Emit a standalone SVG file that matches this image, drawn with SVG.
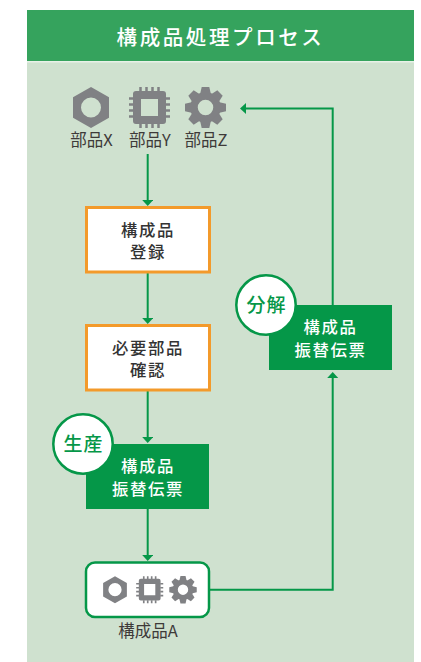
<svg xmlns="http://www.w3.org/2000/svg" xmlns:xlink="http://www.w3.org/1999/xlink" width="421" height="662" viewBox="0 0 421 662">
<style>
text{font-family:"Noto Sans CJK JP","Noto Sans",sans-serif;text-anchor:middle}
.lbl{font-size:16.500px;fill:#3e3a39;font-weight:400}
.box{font-size:16.400px;font-weight:500;fill:#333;letter-spacing:1.600px}
.wh{font-size:16.400px;font-weight:500;fill:#fff;letter-spacing:1.600px}
.circ{font-size:19px;font-weight:500;fill:#059748;letter-spacing:1px}
.or{fill:#fff;stroke:#f39a2b;stroke-width:3}
.gr{fill:#059748}
.c{fill:#fff;stroke:#059748;stroke-width:2.500}
.ln{fill:none;stroke:#059748;stroke-width:2}
.ic{fill:#808184}
</style>
<defs>
<marker id="a" markerUnits="userSpaceOnUse" markerWidth="8" markerHeight="12" refX="3" refY="5.500" orient="auto"><path d="M0 0L6 5.500L0 11Z" fill="#059748"/></marker>
<g id="nut"><path class="ic" fill-rule="evenodd" d="M0-20.500L18-10.200V10.200L0 20.500L-18 10.200V-10.200ZM0-10A10 10 0 1 0 0 10A10 10 0 1 0 0-10Z"/></g>
<g id="chip"><path class="ic" fill-rule="evenodd" d="M-13.500-16.500H13.500Q16.500-16.500 16.500-13.500V13.500Q16.500 16.500 13.500 16.500H-13.500Q-16.500 16.500-16.500 13.500V-13.500Q-16.500-16.500-13.500-16.500ZM-8.500-8.500V8.500H8.500V-8.500Z"/><path d="M-9-20.500V-16M-3-20.500V-16M3-20.500V-16M9-20.500V-16M-9 16V20.500M-3 16V20.500M3 16V20.500M9 16V20.500M-20.500-9H-16M-20.500-3H-16M-20.500 3H-16M-20.500 9H-16M16-9H20.500M16-3H20.500M16 3H20.500M16 9H20.500" stroke="#808184" stroke-width="2.500" fill="none"/></g>
<path id="t" class="ic" d="M-5.500-13L-3.800-20.500H3.800L5.500-13Z"/>
<g id="gear"><circle r="11.500" fill="none" stroke="#808184" stroke-width="7.500"/><use xlink:href="#t" href="#t"/><use xlink:href="#t" href="#t" transform="rotate(45)"/><use xlink:href="#t" href="#t" transform="rotate(90)"/><use xlink:href="#t" href="#t" transform="rotate(135)"/><use xlink:href="#t" href="#t" transform="rotate(180)"/><use xlink:href="#t" href="#t" transform="rotate(225)"/><use xlink:href="#t" href="#t" transform="rotate(270)"/><use xlink:href="#t" href="#t" transform="rotate(315)"/></g>
</defs>
<rect x="27" y="10" width="387" height="652" fill="#cfe1cf"/>
<rect x="27" y="10" width="387" height="51" fill="#35a35d"/>
<rect x="27" y="61" width="387" height="1.500" fill="#e8f1e8"/>
<text id="title" x="220.500" y="45" font-size="20.500" font-weight="500" fill="#fff" letter-spacing="2.600">構成品処理プロセス</text>
<g id="connectors">
<path class="ln" d="M147.700 154V203" marker-end="url(#a)"/>
<path class="ln" d="M147.700 273V321" marker-end="url(#a)"/>
<path class="ln" d="M147.700 391V440" marker-end="url(#a)"/>
<path class="ln" d="M147.700 509V558" marker-end="url(#a)"/>
<path class="ln" d="M210 589.700H332.700V375" marker-end="url(#a)"/>
<path class="ln" d="M332.700 305V108.500H243" marker-end="url(#a)"/>
</g>
<g id="partX"><use xlink:href="#nut" href="#nut" x="91" y="107.500"/><text class="lbl" x="91.500" y="146">部品X</text></g>
<g id="partY"><use xlink:href="#chip" href="#chip" x="149.500" y="107.500"/><text class="lbl" x="150" y="146">部品Y</text></g>
<g id="partZ"><use xlink:href="#gear" href="#gear" x="205.500" y="107.500"/><text class="lbl" x="206" y="146">部品Z</text></g>
<g id="register"><rect class="or" x="86.500" y="207.500" width="123" height="64.500"/><text class="box"><tspan x="148" y="235.500">構成品</tspan><tspan x="148" y="258.100">登録</tspan></text></g>
<g id="confirm"><rect class="or" x="86.500" y="325.500" width="123" height="64.500"/><text class="box"><tspan x="148" y="353.500">必要部品</tspan><tspan x="148" y="376.100">確認</tspan></text></g>
<g id="slipProduce"><rect class="gr" x="86" y="444" width="123" height="65"/><text class="wh"><tspan x="148" y="472.400">構成品</tspan><tspan x="148" y="495">振替伝票</tspan></text></g>
<g id="badgeProduce"><circle class="c" cx="83" cy="444" r="29.700"/><text class="circ" x="83.500" y="451">生産</text></g>
<g id="slipDisassemble"><rect class="gr" x="269" y="305" width="123" height="65"/><text class="wh"><tspan x="330.500" y="333.400">構成品</tspan><tspan x="330.500" y="356">振替伝票</tspan></text></g>
<g id="badgeDisassemble"><circle class="c" cx="266" cy="305" r="29.700"/><text class="circ" x="266.500" y="312">分解</text></g>
<g id="productA"><rect x="86" y="562.500" width="123" height="54.500" rx="9" fill="#fff" stroke="#059748" stroke-width="2.500"/>
<g transform="translate(115 589.700) scale(.66)"><use xlink:href="#nut" href="#nut"/></g>
<g transform="translate(149.700 589.700) scale(.66)"><use xlink:href="#chip" href="#chip"/></g>
<g transform="translate(183 589.700) scale(.67)"><use xlink:href="#gear" href="#gear"/></g>
<text class="lbl" x="148" y="637">構成品A</text></g>
</svg>
